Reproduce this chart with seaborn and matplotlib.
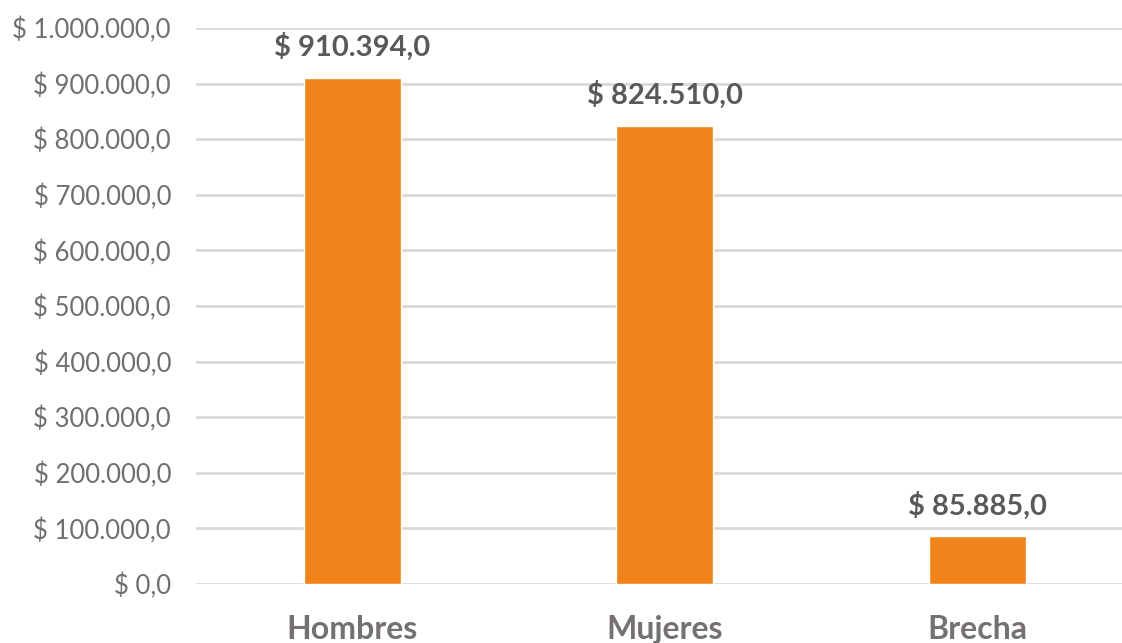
import pandas as pd
import seaborn as sns
import matplotlib.pyplot as plt

categorias = ["Hombres", "Mujeres", "Brecha"]
valores = [910394.0, 824510.0, 85885.0]
yticks = [0, 100000, 200000, 300000, 400000, 500000, 600000, 700000, 800000, 900000, 1000000]


def fmt(v):
    s = f"{v:,.1f}".replace(",", "X").replace(".", ",").replace("X", ".")
    return "$ " + s


df = pd.DataFrame({"cat": categorias, "val": valores})

sns.set_style("white")
plt.rcParams["font.family"] = ["Lato", "DejaVu Sans"]

fig = plt.figure(figsize=(11.22, 6.43), dpi=100)
ax = fig.add_axes([196 / 1122, 59 / 643, 937.5 / 1122, 556 / 643])

sns.barplot(data=df, x="cat", y="val", color="#F0831A", width=0.31,
            saturation=1, ax=ax, zorder=3)

ax.set_ylim(0, 1000000)
ax.set_yticks(yticks)
ax.set_yticklabels([fmt(v) for v in yticks], fontsize=18.5, color="#6f6f6f")
ax.yaxis.grid(True, color="#D9D9D9", linewidth=2, zorder=0)
ax.set_axisbelow(True)
for s in ax.spines.values():
    s.set_visible(False)
ax.tick_params(axis="y", length=0, pad=18)
ax.tick_params(axis="x", length=0, pad=22)
ax.set_xlabel("")
ax.set_ylabel("")
for t in ax.get_xticklabels():
    t.set_fontsize(23)
    t.set_fontweight("bold")
    t.set_color("#767171")

ax.bar_label(ax.containers[0], labels=[fmt(v) for v in valores], padding=12,
             fontsize=21, fontweight="bold", color="#595959")

plt.savefig("out.png", dpi=100)
plt.close()
